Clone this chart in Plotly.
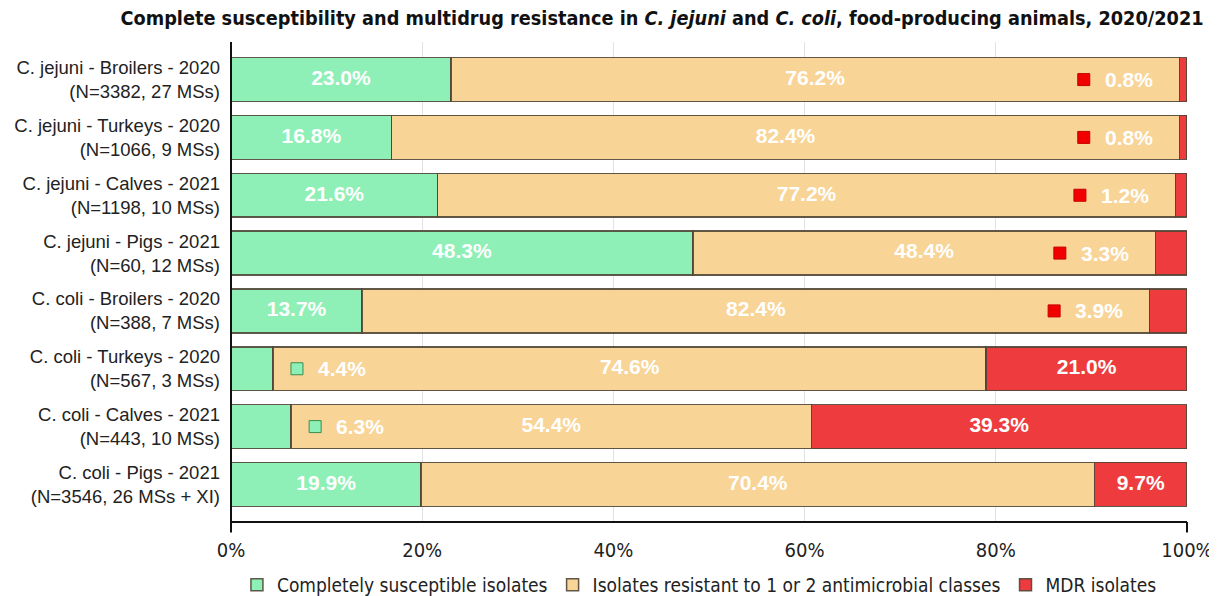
import plotly.graph_objects as go

categories = [
    "C. jejuni - Broilers - 2020<br>(N=3382, 27 MSs)",
    "C. jejuni - Turkeys - 2020<br>(N=1066, 9 MSs)",
    "C. jejuni - Calves - 2021<br>(N=1198, 10 MSs)",
    "C. jejuni - Pigs - 2021<br>(N=60, 12 MSs)",
    "C. coli - Broilers - 2020<br>(N=388, 7 MSs)",
    "C. coli - Turkeys - 2020<br>(N=567, 3 MSs)",
    "C. coli - Calves - 2021<br>(N=443, 10 MSs)",
    "C. coli - Pigs - 2021<br>(N=3546, 26 MSs + XI)",
]
susceptible = [23.0, 16.8, 21.6, 48.3, 13.7, 4.4, 6.3, 19.9]
resistant_1_2 = [76.2, 82.4, 77.2, 48.4, 82.4, 74.6, 54.4, 70.4]
mdr = [0.8, 0.8, 1.2, 3.3, 3.9, 21.0, 39.3, 9.7]
series_names = ["Completely susceptible isolates",
                "Isolates resistant to 1 or 2 antimicrobial classes",
                "MDR isolates"]
tick_vals = [0, 20, 40, 60, 80, 100]
tick_text = ["0%", "20%", "40%", "60%", "80%", "100%"]

colors = ["#8ef0b6", "#f8d497", "#ee3b3e"]
outline = "rgba(80,70,55,0.9)"
SMALL = 7.0
NARROW = "Liberation Sans Narrow, DejaVu Sans Condensed, Liberation Sans, Arial"
SANS = "Liberation Sans, Arial"

fig = go.Figure()
series = [susceptible, resistant_1_2, mdr]
for name, vals, col in zip(series_names, series, colors):
    fig.add_trace(go.Bar(
        y=categories, x=vals, name=name, orientation="h",
        marker=dict(color=col, line=dict(color=outline, width=1.5)),
        width=0.76, hoverinfo="x+name",
    ))

lab_x, lab_y, lab_t = [], [], []
for i, cat in enumerate(categories):
    start = 0.0
    for vals in series:
        v = vals[i]
        if v >= SMALL:
            lab_x.append(start + v / 2)
            lab_y.append(cat)
            lab_t.append(f"{v:.1f}%")
        start += v
fig.add_trace(go.Scatter(
    x=lab_x, y=lab_y, text=lab_t, mode="text", showlegend=False,
    textfont=dict(color="white", size=21, family=SANS),
    texttemplate="<b>%{text}</b>", hoverinfo="skip",
))

for i, cat in enumerate(categories):
    s, r, m = susceptible[i], resistant_1_2[i], mdr[i]
    items = []
    if s < SMALL:
        items.append((s + 2.5, s, colors[0], "rgba(60,140,80,1)"))
    if m < SMALL:
        items.append((s + r - 10.0, m, "#f00000", "rgba(200,0,0,1)"))
    for xpos, v, c, lc in items:
        fig.add_trace(go.Scatter(
            x=[xpos], y=[cat], mode="markers", showlegend=False, hoverinfo="skip",
            marker=dict(symbol="square", size=12, color=c, line=dict(color=lc, width=1)),
        ))
        fig.add_annotation(
            x=xpos, y=cat, text=f"<b>{v:.1f}%</b>", showarrow=False,
            xanchor="left", xshift=19,
            font=dict(color="white", size=21, family=SANS),
        )

# axis lines and end ticks
fig.add_shape(type="line", xref="paper", yref="paper", x0=0, x1=1, y0=0, y1=0,
              line=dict(color="#111", width=2))
fig.add_shape(type="line", xref="paper", yref="paper", x0=0, x1=0, y0=-0.022, y1=1,
              line=dict(color="#111", width=2))
fig.add_shape(type="line", xref="paper", yref="paper", x0=1, x1=1, y0=-0.022, y1=0,
              line=dict(color="#111", width=2))

fig.update_layout(
    barmode="stack",
    width=1209, height=588,
    margin=dict(l=223, r=30, t=34, b=74, autoexpand=False),
    plot_bgcolor="white", paper_bgcolor="white",
    font=dict(family=SANS, color="#222"),
    title=dict(
        text="<b>Complete susceptibility and multidrug resistance in <i>C. jejuni</i> and <i>C. coli</i>, food-producing animals, 2020/2021</b>",
        x=0.541, xanchor="center", y=0.983, yanchor="middle",
        font=dict(size=19.7, color="#111", family=NARROW),
    ),
    xaxis=dict(
        range=[0, 100], tickvals=tick_vals, ticktext=tick_text,
        showgrid=True, gridcolor="#e2e2e2", gridwidth=1,
        showline=False, automargin=False,
        ticks="", ticklabelstandoff=14, zeroline=False,
        tickfont=dict(size=20, color="#222", family=NARROW),
    ),
    yaxis=dict(
        range=[7.65, -0.65], showline=False, automargin=False,
        ticks="", ticklabelstandoff=10,
        tickfont=dict(size=18.5, color="#222"),
    ),
    legend=dict(
        orientation="h", x=0.49, xanchor="center",
        yref="container", y=0.019, yanchor="middle",
        font=dict(size=19, color="#222", family=NARROW),
        itemwidth=30, traceorder="normal",
    ),
    bargap=0.24,
)

fig.write_html("out.html")
